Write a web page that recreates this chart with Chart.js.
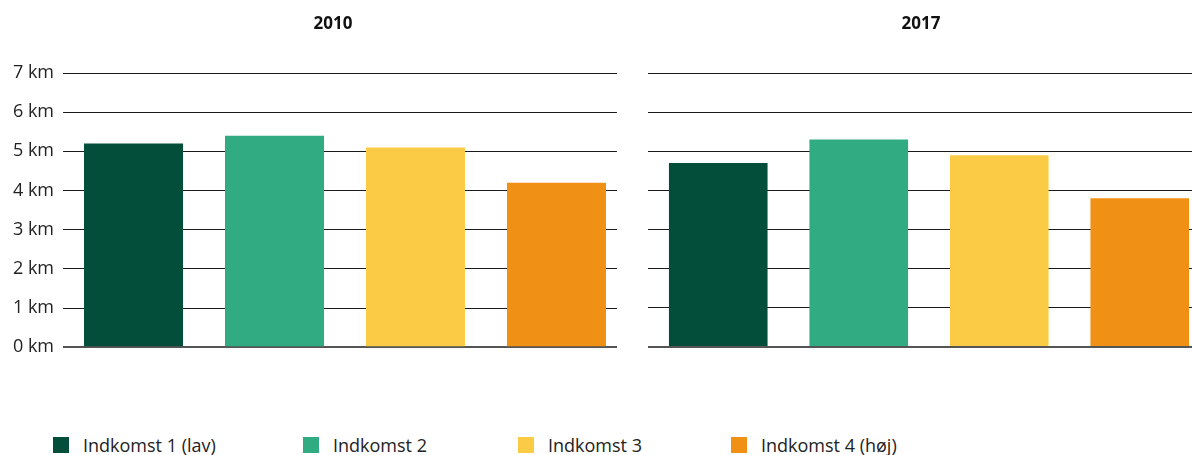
<!DOCTYPE html>
<html>
<head>
<meta charset="utf-8">
<script src="https://cdn.jsdelivr.net/npm/chart.js@4.4.1/dist/chart.umd.min.js"></script>
<style>
  body { margin: 0; background: #fff; width: 1192px; height: 455px; position: relative; overflow: hidden; font-family: "Open Sans", sans-serif; }
  .panel { position: absolute; top: 0; height: 360px; }
  #legend { position: absolute; top: 436px; left: 0; width: 1192px; height: 18px; }
  .item { position: absolute; top: 0; display: flex; align-items: center; font-size: 18px; line-height: 18px; color: #222; white-space: nowrap; }
  .box { width: 16px; height: 16px; margin-right: 14px; }
</style>
</head>
<body>
<div class="panel" style="left:0;width:627px;height:367px"><canvas id="chart2010"></canvas></div>
<div class="panel" style="left:617px;width:593px;background:#fff"><canvas id="chart2017"></canvas></div>
<div id="legend"></div>
<script>
// Data
const kategorier = ['Indkomst 1 (lav)', 'Indkomst 2', 'Indkomst 3', 'Indkomst 4 (høj)'];
const farver = ['#024e3a', '#31ab82', '#fccb45', '#f09116'];
const vaerdier2010 = [5.2, 5.4, 5.1, 4.2];
const vaerdier2017 = [4.7, 5.3, 4.9, 3.8];
const yTicks = ['0 km', '1 km', '2 km', '3 km', '4 km', '5 km', '6 km', '7 km'];

// Title drawn centered at a given x
const panelTitel = {
    id: 'panelTitel',
    afterDraw(chart, args, opts) {
        const ctx = chart.ctx;
        ctx.save();
        ctx.font = 'bold 17px "Open Sans", sans-serif';
        ctx.fillStyle = '#111';
        ctx.textAlign = 'center';
        ctx.textBaseline = 'middle';
        ctx.fillText(opts.text, opts.x, opts.y);
        ctx.restore();
    }
};

function lavGraf(id, aar, data, visLabels) {
    const canvas = document.getElementById(id);
    return new Chart(canvas.getContext('2d'), {
        type: 'bar',
        data: {
            labels: kategorier,
            datasets: [{
                data: data,
                backgroundColor: farver,
                barPercentage: 0.702,
                categoryPercentage: 1
            }]
        },
        plugins: [panelTitel],
        options: {
            responsive: true,
            maintainAspectRatio: false,
            animation: false,
            layout: {
                padding: visLabels
                    ? { top: 73, bottom: 4, left: 0, right: 0 }
                    : { top: 73, bottom: 13, left: 31, right: 0 }
            },
            plugins: {
                legend: { display: false },
                tooltip: { enabled: false },
                panelTitel: visLabels ? { text: aar, x: 333, y: 24 } : { text: aar, x: 304, y: 24 }
            },
            scales: {
                x: { display: false },
                y: {
                    min: 0,
                    max: 7,
                    afterFit: s => { s.width = visLabels ? 63 : 0; },
                    border: { display: false },
                    grid: {
                        drawTicks: false,
                        color: c => c.tick && c.tick.value === 0 ? '#555' : '#1a1a1a',
                        lineWidth: c => c.tick && c.tick.value === 0 ? 2 : 1
                    },
                    ticks: {
                        display: visLabels,
                        stepSize: 1,
                        padding: 9,
                        color: '#222',
                        font: { family: '"Open Sans", sans-serif', size: 18 },
                        callback: (v, i) => yTicks[i]
                    }
                }
            }
        }
    });
}

lavGraf('chart2010', '2010', vaerdier2010, true);
lavGraf('chart2017', '2017', vaerdier2017, false);

// Legend
const legendPos = [53, 303, 518, 731];
const legend = document.getElementById('legend');
kategorier.forEach((navn, i) => {
    const el = document.createElement('div');
    el.className = 'item';
    el.style.left = legendPos[i] + 'px';
    el.innerHTML = '<span class="box" style="background:' + farver[i] + '"></span><span>' + navn + '</span>';
    legend.appendChild(el);
});
</script>
</body>
</html>
